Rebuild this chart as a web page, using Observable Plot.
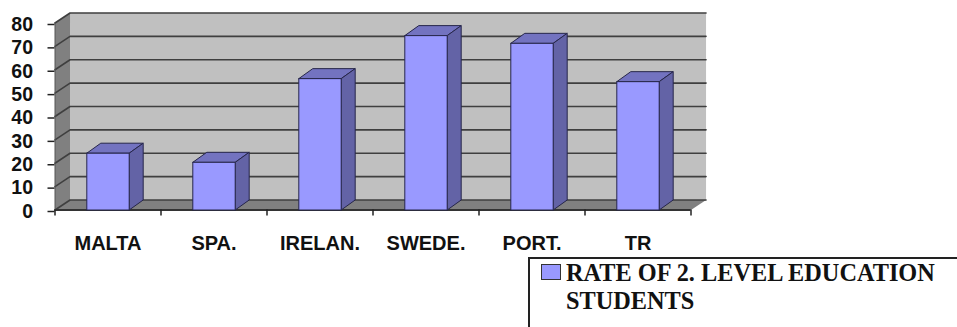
<!DOCTYPE html>
<html>
<head>
<meta charset="utf-8">
<script src="https://cdn.jsdelivr.net/npm/d3@7"></script>
<script src="https://cdn.jsdelivr.net/npm/@observablehq/plot@0.6"></script>
<style>
  html, body { margin: 0; padding: 0; background: #fff; }
  #chart svg { display: block; }
  #legend {
    position: relative;
    box-sizing: border-box;
    margin-left: 528px;
    height: 70px;
    border-top: 2px solid #222;
    border-left: 2px solid #222;
    overflow: hidden;
    font: bold 24.3px/28px "Liberation Serif", serif;
    color: #111;
    padding: 0 10px 0 36px;
  }
  #legend i {
    position: absolute;
    left: 11px;
    top: 5px;
    width: 18px;
    height: 14px;
    background: #9999ff;
    border: 1.5px solid #333;
  }
</style>
</head>
<body>
<div id="chart"></div>
<div id="legend"><i></i>RATE OF 2. LEVEL EDUCATION STUDENTS</div>
<script>
const categories = ["MALTA", "SPA.", "IRELAN.", "SWEDE.", "PORT.", "TR"];
const rates = [24.3, 20.4, 56.2, 74.6, 71.3, 54.9];
const yTicks = [0, 10, 20, 30, 40, 50, 60, 70, 80];

// Depth of the pseudo-3D box, in scale units
const wallDepthX = 0.142;
const wallDepthY = 4.28;
const barDepthX = 0.132;
const barHalfWidth = 0.2;

const n = categories.length;
const xTicks = d3.range(n + 1);

const lineColor = "#3f3f3f";
const edgeColor = "#26264a";

// A filled, outlined polygon given as [x, y] pairs in data coordinates
const polygon = (points, fill, stroke = "none", strokeWidth = 1) =>
  Plot.line([...points, points[0]], {
    x: (d) => d[0], y: (d) => d[1],
    fill, stroke, strokeWidth, strokeLinejoin: "round"
  });

const backWall = polygon(
  [[wallDepthX, wallDepthY], [n + wallDepthX, wallDepthY], [n + wallDepthX, 80 + wallDepthY], [wallDepthX, 80 + wallDepthY]],
  "#c0c0c0"
);
const sideWall = polygon(
  [[0, 0], [wallDepthX, wallDepthY], [wallDepthX, 80 + wallDepthY], [0, 80]],
  "#808080"
);
const floor = polygon(
  [[0, 0], [n, 0], [n + wallDepthX, wallDepthY], [wallDepthX, wallDepthY]],
  "#808080"
);

// Gridlines run across the side wall, then along the back wall
const gridlines = yTicks.map((t) =>
  Plot.line(
    [[0, t], [wallDepthX, t + wallDepthY], [n + wallDepthX, t + wallDepthY]],
    { x: (d) => d[0], y: (d) => d[1], stroke: lineColor, strokeWidth: 1.6 }
  )
);

const bars = rates.flatMap((v, i) => {
  const l = i + 0.5 - barHalfWidth;
  const r = i + 0.5 + barHalfWidth;
  return [
    polygon([[l, v], [r, v], [r + barDepthX, v + wallDepthY], [l + barDepthX, v + wallDepthY]], "#7373c0", edgeColor),
    polygon([[r, 0], [r + barDepthX, wallDepthY], [r + barDepthX, v + wallDepthY], [r, v]], "#6363a6", edgeColor),
    polygon([[l, 0], [r, 0], [r, v], [l, v]], "#9999ff", edgeColor)
  ];
});

const chart = Plot.plot({
  width: 957,
  height: 257,
  marginLeft: 54.5,
  marginRight: 266.5,
  marginTop: 22.5,
  marginBottom: 47.5,
  style: { background: "transparent", overflow: "visible" },
  x: { type: "linear", domain: [0, n] },
  y: { type: "linear", domain: [0, 80] },
  marks: [
    backWall,
    sideWall,
    floor,
    ...gridlines,
    Plot.ruleY([0], { stroke: "#333", strokeWidth: 2 }),
    Plot.ruleX([0], { stroke: "#555", strokeWidth: 1 }),
    ...bars,
    Plot.axisY({
      ticks: yTicks,
      tickSize: 7,
      tickPadding: 15,
      stroke: "#222",
      strokeWidth: 1.5,
      label: null,
      fontSize: 19.5,
      fontWeight: "bold",
      fontFamily: "Liberation Sans",
      fill: "#111",
      dy: 1.5
    }),
    Plot.axisX({
      ticks: xTicks,
      tickSize: 6,
      stroke: "#222",
      strokeWidth: 1.5,
      tickFormat: () => "",
      label: null
    }),
    Plot.text(categories, {
      x: (d, i) => i + 0.5,
      y: () => 0,
      text: (d) => d,
      dy: 34,
      fontSize: 20,
      fontWeight: "bold",
      fontFamily: "Liberation Sans",
      fill: "#111"
    })
  ]
});
document.getElementById("chart").append(chart);
</script>
</body>
</html>
